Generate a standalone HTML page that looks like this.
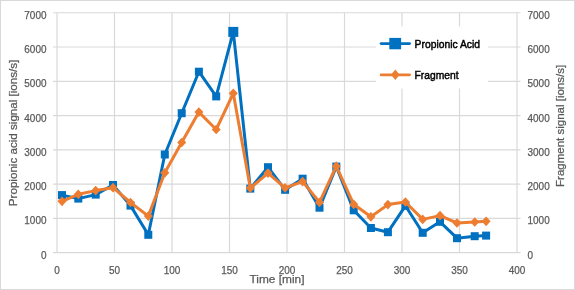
<!DOCTYPE html>
<html><head><meta charset="utf-8"><style>
html,body{margin:0;padding:0;background:#fff;}
body{width:575px;height:290px;overflow:hidden;}
svg{display:block;will-change:transform;}
text{font-family:"Liberation Sans",sans-serif;}
</style></head><body>
<svg width="575" height="290" viewBox="0 0 575 290">
<rect x="0" y="0" width="575" height="290" fill="#fff"/>
<rect x="0.5" y="0.5" width="574" height="289" fill="none" stroke="#d9d9d9" stroke-width="1"/>

<g stroke="#d9d9d9" stroke-width="1.2" fill="none"><line x1="53" y1="252.60" x2="520.5" y2="252.60"/><line x1="53" y1="218.34" x2="520.5" y2="218.34"/><line x1="53" y1="184.07" x2="520.5" y2="184.07"/><line x1="53" y1="149.81" x2="520.5" y2="149.81"/><line x1="53" y1="115.54" x2="520.5" y2="115.54"/><line x1="53" y1="81.28" x2="520.5" y2="81.28"/><line x1="53" y1="47.01" x2="520.5" y2="47.01"/><line x1="53" y1="12.75" x2="520.5" y2="12.75"/><line x1="114.50" y1="12.75" x2="114.50" y2="252.60"/><line x1="172.00" y1="12.75" x2="172.00" y2="252.60"/><line x1="229.50" y1="12.75" x2="229.50" y2="252.60"/><line x1="287.00" y1="12.75" x2="287.00" y2="252.60"/><line x1="344.50" y1="12.75" x2="344.50" y2="252.60"/><line x1="402.00" y1="12.75" x2="402.00" y2="252.60"/><line x1="459.50" y1="12.75" x2="459.50" y2="252.60"/><line x1="57.0" y1="12.75" x2="57.0" y2="252.60"/><line x1="517.0" y1="12.75" x2="517.0" y2="252.60"/></g>
<g fill="#595959" stroke="#595959" stroke-width="0.25" font-size="11"><text x="46.5" y="258.60" text-anchor="end" textLength="5.55" lengthAdjust="spacingAndGlyphs">0</text><text x="527.5" y="258.60" textLength="5.55" lengthAdjust="spacingAndGlyphs">0</text><text x="46.5" y="224.34" text-anchor="end" textLength="22.20" lengthAdjust="spacingAndGlyphs">1000</text><text x="527.5" y="224.34" textLength="22.20" lengthAdjust="spacingAndGlyphs">1000</text><text x="46.5" y="190.07" text-anchor="end" textLength="22.20" lengthAdjust="spacingAndGlyphs">2000</text><text x="527.5" y="190.07" textLength="22.20" lengthAdjust="spacingAndGlyphs">2000</text><text x="46.5" y="155.81" text-anchor="end" textLength="22.20" lengthAdjust="spacingAndGlyphs">3000</text><text x="527.5" y="155.81" textLength="22.20" lengthAdjust="spacingAndGlyphs">3000</text><text x="46.5" y="121.54" text-anchor="end" textLength="22.20" lengthAdjust="spacingAndGlyphs">4000</text><text x="527.5" y="121.54" textLength="22.20" lengthAdjust="spacingAndGlyphs">4000</text><text x="46.5" y="87.28" text-anchor="end" textLength="22.20" lengthAdjust="spacingAndGlyphs">5000</text><text x="527.5" y="87.28" textLength="22.20" lengthAdjust="spacingAndGlyphs">5000</text><text x="46.5" y="53.01" text-anchor="end" textLength="22.20" lengthAdjust="spacingAndGlyphs">6000</text><text x="527.5" y="53.01" textLength="22.20" lengthAdjust="spacingAndGlyphs">6000</text><text x="46.5" y="18.75" text-anchor="end" textLength="22.20" lengthAdjust="spacingAndGlyphs">7000</text><text x="527.5" y="18.75" textLength="22.20" lengthAdjust="spacingAndGlyphs">7000</text><text x="57.00" y="273.8" text-anchor="middle" textLength="5.55" lengthAdjust="spacingAndGlyphs">0</text><text x="114.50" y="273.8" text-anchor="middle" textLength="11.10" lengthAdjust="spacingAndGlyphs">50</text><text x="172.00" y="273.8" text-anchor="middle" textLength="16.65" lengthAdjust="spacingAndGlyphs">100</text><text x="229.50" y="273.8" text-anchor="middle" textLength="16.65" lengthAdjust="spacingAndGlyphs">150</text><text x="287.00" y="273.8" text-anchor="middle" textLength="16.65" lengthAdjust="spacingAndGlyphs">200</text><text x="344.50" y="273.8" text-anchor="middle" textLength="16.65" lengthAdjust="spacingAndGlyphs">250</text><text x="402.00" y="273.8" text-anchor="middle" textLength="16.65" lengthAdjust="spacingAndGlyphs">300</text><text x="459.50" y="273.8" text-anchor="middle" textLength="16.65" lengthAdjust="spacingAndGlyphs">350</text><text x="517.00" y="273.8" text-anchor="middle" textLength="16.65" lengthAdjust="spacingAndGlyphs">400</text></g>
<text x="277" y="282.8" fill="#595959" stroke="#595959" stroke-width="0.25" font-size="11.6" text-anchor="middle" textLength="55" lengthAdjust="spacingAndGlyphs">Time [min]</text>
<text transform="translate(16.8,132.9) rotate(-90)" fill="#595959" stroke="#595959" stroke-width="0.25" font-size="11.6" text-anchor="middle" textLength="146.5" lengthAdjust="spacingAndGlyphs">Propionic acid signal [ions/s]</text>
<text transform="translate(563.8,125.9) rotate(-90)" fill="#595959" stroke="#595959" stroke-width="0.25" font-size="11.6" text-anchor="middle" textLength="122" lengthAdjust="spacingAndGlyphs">Fragment signal [ions/s]</text>
<rect x="376" y="26.5" width="112" height="62" fill="#fff"/>
<polyline points="62.00,195.10 78.30,198.60 95.70,194.60 113.00,185.00 130.50,205.60 148.30,234.80 164.80,154.50 181.70,113.20 198.90,71.70 216.20,96.40 233.30,31.90 250.30,188.60 268.00,167.20 285.10,189.80 302.60,178.70 319.50,207.70 336.30,166.60 353.70,210.30 370.90,228.00 387.90,232.20 405.40,205.80 422.70,232.80 440.00,221.80 457.00,238.20 474.70,236.20 486.10,235.60" fill="none" stroke="#0070c0" stroke-width="3" stroke-linejoin="round" stroke-linecap="round"/>
<rect x="58.00" y="191.10" width="8" height="8" fill="#0070c0"/><rect x="74.30" y="194.60" width="8" height="8" fill="#0070c0"/><rect x="91.70" y="190.60" width="8" height="8" fill="#0070c0"/><rect x="109.00" y="181.00" width="8" height="8" fill="#0070c0"/><rect x="126.50" y="201.60" width="8" height="8" fill="#0070c0"/><rect x="144.30" y="230.80" width="8" height="8" fill="#0070c0"/><rect x="160.80" y="150.50" width="8" height="8" fill="#0070c0"/><rect x="177.70" y="109.20" width="8" height="8" fill="#0070c0"/><rect x="194.90" y="67.70" width="8" height="8" fill="#0070c0"/><rect x="212.20" y="92.40" width="8" height="8" fill="#0070c0"/><rect x="228.30" y="26.90" width="10" height="10" fill="#0070c0"/><rect x="246.30" y="184.60" width="8" height="8" fill="#0070c0"/><rect x="264.00" y="163.20" width="8" height="8" fill="#0070c0"/><rect x="281.10" y="185.80" width="8" height="8" fill="#0070c0"/><rect x="298.60" y="174.70" width="8" height="8" fill="#0070c0"/><rect x="315.50" y="203.70" width="8" height="8" fill="#0070c0"/><rect x="332.30" y="162.60" width="8" height="8" fill="#0070c0"/><rect x="349.70" y="206.30" width="8" height="8" fill="#0070c0"/><rect x="366.90" y="224.00" width="8" height="8" fill="#0070c0"/><rect x="383.90" y="228.20" width="8" height="8" fill="#0070c0"/><rect x="401.40" y="201.80" width="8" height="8" fill="#0070c0"/><rect x="418.70" y="228.80" width="8" height="8" fill="#0070c0"/><rect x="436.00" y="217.80" width="8" height="8" fill="#0070c0"/><rect x="453.00" y="234.20" width="8" height="8" fill="#0070c0"/><rect x="470.70" y="232.20" width="8" height="8" fill="#0070c0"/><rect x="482.10" y="231.60" width="8" height="8" fill="#0070c0"/>
<polyline points="62.00,201.30 78.30,194.30 95.70,190.60 113.00,187.70 130.50,202.50 148.30,216.10 164.80,172.80 181.70,142.50 198.90,112.10 216.20,129.50 233.30,93.30 250.30,188.10 268.00,173.10 285.10,187.80 302.60,181.60 319.50,202.30 336.30,166.20 353.70,204.30 370.90,216.80 387.90,204.60 405.40,202.00 422.70,219.40 440.00,215.60 457.00,223.00 474.70,222.00 486.10,221.30" fill="none" stroke="#ed7d31" stroke-width="3" stroke-linejoin="round" stroke-linecap="round"/>
<path d="M62.00 196.45L66.50 201.30L62.00 206.15L57.50 201.30Z" fill="#ed7d31"/><path d="M78.30 189.45L82.80 194.30L78.30 199.15L73.80 194.30Z" fill="#ed7d31"/><path d="M95.70 185.75L100.20 190.60L95.70 195.45L91.20 190.60Z" fill="#ed7d31"/><path d="M113.00 182.85L117.50 187.70L113.00 192.55L108.50 187.70Z" fill="#ed7d31"/><path d="M130.50 197.65L135.00 202.50L130.50 207.35L126.00 202.50Z" fill="#ed7d31"/><path d="M148.30 211.25L152.80 216.10L148.30 220.95L143.80 216.10Z" fill="#ed7d31"/><path d="M164.80 167.95L169.30 172.80L164.80 177.65L160.30 172.80Z" fill="#ed7d31"/><path d="M181.70 137.65L186.20 142.50L181.70 147.35L177.20 142.50Z" fill="#ed7d31"/><path d="M198.90 107.25L203.40 112.10L198.90 116.95L194.40 112.10Z" fill="#ed7d31"/><path d="M216.20 124.65L220.70 129.50L216.20 134.35L211.70 129.50Z" fill="#ed7d31"/><path d="M233.30 88.45L237.80 93.30L233.30 98.15L228.80 93.30Z" fill="#ed7d31"/><path d="M250.30 183.25L254.80 188.10L250.30 192.95L245.80 188.10Z" fill="#ed7d31"/><path d="M268.00 168.25L272.50 173.10L268.00 177.95L263.50 173.10Z" fill="#ed7d31"/><path d="M285.10 182.95L289.60 187.80L285.10 192.65L280.60 187.80Z" fill="#ed7d31"/><path d="M302.60 176.75L307.10 181.60L302.60 186.45L298.10 181.60Z" fill="#ed7d31"/><path d="M319.50 197.45L324.00 202.30L319.50 207.15L315.00 202.30Z" fill="#ed7d31"/><path d="M336.30 161.35L340.80 166.20L336.30 171.05L331.80 166.20Z" fill="#ed7d31"/><path d="M353.70 199.45L358.20 204.30L353.70 209.15L349.20 204.30Z" fill="#ed7d31"/><path d="M370.90 211.95L375.40 216.80L370.90 221.65L366.40 216.80Z" fill="#ed7d31"/><path d="M387.90 199.75L392.40 204.60L387.90 209.45L383.40 204.60Z" fill="#ed7d31"/><path d="M405.40 197.15L409.90 202.00L405.40 206.85L400.90 202.00Z" fill="#ed7d31"/><path d="M422.70 214.55L427.20 219.40L422.70 224.25L418.20 219.40Z" fill="#ed7d31"/><path d="M440.00 210.75L444.50 215.60L440.00 220.45L435.50 215.60Z" fill="#ed7d31"/><path d="M457.00 218.15L461.50 223.00L457.00 227.85L452.50 223.00Z" fill="#ed7d31"/><path d="M474.70 217.15L479.20 222.00L474.70 226.85L470.20 222.00Z" fill="#ed7d31"/><path d="M486.10 216.45L490.60 221.30L486.10 226.15L481.60 221.30Z" fill="#ed7d31"/>
<line x1="381.1" y1="43.5" x2="409.6" y2="43.5" stroke="#0070c0" stroke-width="2.75" stroke-linecap="round"/>
<rect x="389.3" y="37.9" width="11.8" height="11.4" fill="#0070c0"/>
<line x1="381.1" y1="74.8" x2="409.6" y2="74.8" stroke="#ed7d31" stroke-width="2.75" stroke-linecap="round"/>
<path d="M395.3 69.6L399.6 74.8L395.3 80L391 74.8Z" fill="#ed7d31"/>
<text x="414.6" y="47.8" fill="#000" stroke="#000" stroke-width="0.45" font-size="11" textLength="65.5" lengthAdjust="spacingAndGlyphs">Propionic Acid</text>
<text x="414.6" y="79" fill="#000" stroke="#000" stroke-width="0.45" font-size="11" textLength="44" lengthAdjust="spacingAndGlyphs">Fragment</text>
</svg></body></html>
